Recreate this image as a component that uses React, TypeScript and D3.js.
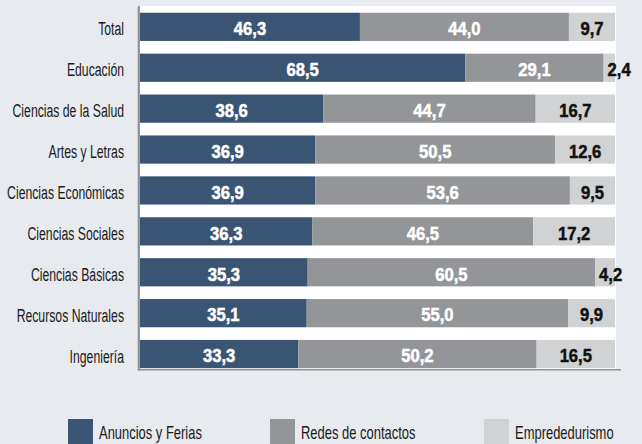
import React from "react";
import * as d3 from "d3";

const categories = [
  "Total",
  "Educación",
  "Ciencias de la Salud",
  "Artes y Letras",
  "Ciencias Económicas",
  "Ciencias Sociales",
  "Ciencias Básicas",
  "Recursos Naturales",
  "Ingeniería",
];
const anuncios = [46.3, 68.5, 38.6, 36.9, 36.9, 36.3, 35.3, 35.1, 33.3];
const redes = [44.0, 29.1, 44.7, 50.5, 53.6, 46.5, 60.5, 55.0, 50.2];
const emprende = [9.7, 2.4, 16.7, 12.6, 9.5, 17.2, 4.2, 9.9, 16.5];
const seriesNames = ["Anuncios y Ferias", "Redes de contactos", "Emprededurismo"];

const W = 642;
const H = 444;
const colors = ["#3a5574", "#939598", "#d1d2d4"];
const labelColors = ["#ffffff", "#ffffff", "#111111"];
const catFont = "'Liberation Sans', Arial, sans-serif";
const valFont = "'Liberation Sans', Arial, sans-serif";

export default function App() {
  const x = d3.scaleLinear().domain([0, 100]).range([140, 615]);
  const y = d3
    .scaleBand<string>()
    .domain(categories)
    .range([6.4, 374.5])
    .paddingInner(0.31)
    .paddingOuter(0.155);

  const rows = categories.map((c, i) => ({
    cat: c,
    a: anuncios[i],
    r: redes[i],
    e: emprende[i],
  }));
  const stack = d3.stack<any>().keys(["a", "r", "e"]);
  const layers = stack(rows);
  const bw = y.bandwidth();

  return (
    <svg
      width={W}
      height={H}
      style={{ position: "absolute", left: 0, top: 0, background: "#e7eaee" }}
    >
      <rect x={0} y={0} width={W} height={H} fill="#e7eaee" />
      <rect x={x(0)} y={6} width={x(100) - x(0) + 1} height={363} fill="#ffffff" />
      {layers.map((layer, li) => (
        <g key={li}>
          {layer.map((d, i) => (
            <rect
              key={i}
              x={x(d[0])}
              y={y(categories[i])!}
              width={x(d[1]) - x(d[0])}
              height={bw}
              fill={colors[li]}
            />
          ))}
        </g>
      ))}
      <line x1={138.8} x2={138.8} y1={6} y2={370.5} stroke="#8f9194" strokeWidth={2.2} />
      <line x1={138} x2={621} y1={369.8} y2={369.8} stroke="#8f9194" strokeWidth={1.6} />
      {layers.map((layer, li) => (
        <g key={"l" + li}>
          {layer.map((d, i) => {
            const v = d[1] - d[0];
            const w = x(d[1]) - x(d[0]);
            const txt = d3.format(".1f")(v).replace(".", ",");
            const narrow = w < 30;
            const cx = narrow ? x(d[0]) + 4 : (x(d[0]) + x(d[1])) / 2;
            const cy = y(categories[i])! + bw / 2 + 8.3;
            return (
              <text
                key={i}
                transform={`translate(${cx},${cy}) scale(0.9,1)`}
                textAnchor={narrow ? "start" : "middle"}
                fontFamily={valFont}
                fontWeight="bold"
                fontSize={18.5}
                fill={labelColors[li]}
                stroke={labelColors[li]}
                strokeWidth={0.5}
              >
                {txt}
              </text>
            );
          })}
        </g>
      ))}
      {categories.map((c) => (
        <text
          key={c}
          transform={`translate(124,${y(c)! + bw / 2 + 8.6}) scale(0.68,1)`}
          textAnchor="end"
          fontFamily={catFont}
          fontSize={18}
          fill="#1a1a1a"
        >
          {c}
        </text>
      ))}
      {seriesNames.map((s, i) => {
        const lx = [68, 270, 484][i];
        return (
          <g key={s}>
            <rect x={lx} y={419} width={25} height={25} fill={colors[i]} />
            <text
              transform={`translate(${lx + 31},439) scale(0.72,1)`}
              fontFamily={catFont}
              fontSize={18}
              fill="#1a1a1a"
            >
              {s}
            </text>
          </g>
        );
      })}
    </svg>
  );
}
